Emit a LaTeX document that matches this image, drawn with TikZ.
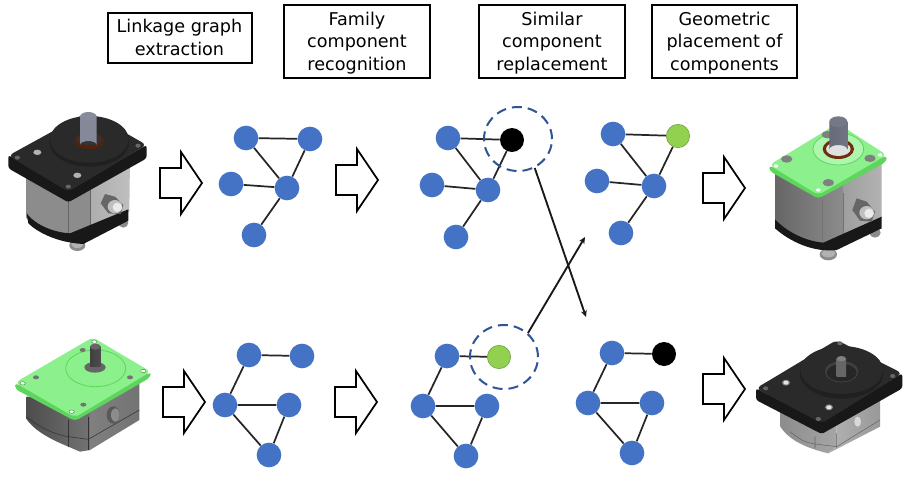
\documentclass[tikz,border=0pt]{standalone}
\usepackage{fontspec}
\setmainfont{DejaVu Sans}
\usetikzlibrary{arrows.meta,backgrounds,shapes.geometric}
\definecolor{nodeblue}{HTML}{4472C4}
\definecolor{nodegreen}{HTML}{92D050}
\definecolor{dashblue}{HTML}{2F5597}
\definecolor{plategreen}{HTML}{8CF08C}
\definecolor{platedge}{HTML}{5ED65E}
\definecolor{darkplate}{HTML}{2A2A2A}
\definecolor{bossrim}{HTML}{202020}
\definecolor{sideplate}{HTML}{181818}
\definecolor{shaftblue}{HTML}{BCC2DA}
\definecolor{ringbrown}{HTML}{6E2E10}
\tikzset{
  titlebox/.style={draw=black,line width=1.5pt,fill=white,align=center,font=\fontsize{13.2}{17}\selectfont,inner sep=0pt},
  gnode/.style={circle,fill=nodeblue,inner sep=0pt,minimum size=18.5pt},
  greennode/.style={circle,fill=nodegreen,draw=nodegreen!75!black,line width=.4pt,inner sep=0pt,minimum size=17.5pt},
  blacknode/.style={circle,fill=black,inner sep=0pt,minimum size=18pt},
  edge/.style={draw=black!85,line width=1.3pt},
  swaparrow/.style={draw=black!90,line width=1.4pt,-{Stealth[length=5pt,width=4.5pt]}},
  dashring/.style={ellipse,draw=dashblue,line width=1.5pt,dash pattern=on 7.5pt off 4.5pt},
  blockarrow/.style={draw=black,line width=1.3pt,fill=white,line join=miter},
}
\newcommand{\blockarr}[2]{\draw[blockarrow,shift={(#1,#2)}] (0,-15)--(21,-15)--(21,-31)--(42,0)--(21,31)--(21,15)--(0,15)--cycle;}
\begin{document}
\begin{tikzpicture}[x=0.75pt,y=-0.75pt]
\useasboundingbox (0,0) rectangle (908,486);
\begin{scope}[on background layer]
\fill[white] (0,0) rectangle (908,486);
\end{scope}
% title boxes
\node[titlebox,minimum width=108pt,minimum height=37.5pt] (t1) at (179.5,37.5) {Linkage graph\\extraction};
\node[titlebox,minimum width=109pt,minimum height=54.5pt] (t2) at (357,41.5) {\rule{0pt}{12pt}Family\\component\\recognition};
\node[titlebox,minimum width=109pt,minimum height=54.5pt] (t3) at (552,41.5) {\rule{0pt}{12pt}Similar\\component\\replacement};
\node[titlebox,minimum width=109pt,minimum height=54.5pt] (t4) at (724.5,41.5) {\rule{0pt}{12pt}Geometric\\placement of\\components};
% block arrows
\blockarr{160}{183}
\blockarr{336}{180}
\blockarr{703}{188}
\blockarr{163}{402}
\blockarr{335}{402}
\blockarr{703}{389}
% top graphs
\node[gnode] (a1) at (246,138) {};
\node[gnode] (a2) at (310,139) {};
\node[gnode] (a3) at (231,184) {};
\node[gnode] (a4) at (287,188) {};
\node[gnode] (a5) at (254,235) {};
\node[gnode] (b1) at (448,138) {};
\node[blacknode] (b2) at (512,140) {};
\node[gnode] (b3) at (432,185) {};
\node[gnode] (b4) at (488,190) {};
\node[gnode] (b5) at (456,237) {};
\node[gnode] (c1) at (613,134) {};
\node[greennode] (c2) at (678,136) {};
\node[gnode] (c3) at (597,181) {};
\node[gnode] (c4) at (654,186) {};
\node[gnode] (c5) at (621,233) {};
% bottom graphs
\node[gnode] (d1) at (249,355) {};
\node[gnode] (d2) at (302,356) {};
\node[gnode] (d3) at (225,405) {};
\node[gnode] (d4) at (289,405) {};
\node[gnode] (d5) at (269,455) {};
\node[gnode] (e1) at (447,356) {};
\node[greennode] (e2) at (499,357) {};
\node[gnode] (e3) at (423,406) {};
\node[gnode] (e4) at (487,406) {};
\node[gnode] (e5) at (466,456) {};
\node[gnode] (f1) at (612,353) {};
\node[blacknode] (f2) at (664,354) {};
\node[gnode] (f3) at (588,403) {};
\node[gnode] (f4) at (652,403) {};
\node[gnode] (f5) at (632,453) {};
\begin{scope}[on background layer]
\foreach \g in {a,b,c}{
  \draw[edge] (\g1)--(\g2) (\g1)--(\g4) (\g3)--(\g4) (\g2)--(\g4) (\g4)--(\g5);
}
\foreach \g in {d,e,f}{
  \draw[edge] (\g1)--(\g2) (\g1)--(\g3) (\g3)--(\g4) (\g3)--(\g5) (\g4)--(\g5);
}
\end{scope}
% dashed rings and swap arrows
\node[dashring,minimum width=51pt,minimum height=48pt,inner sep=0pt] (ringtop) at (518,139) {};
\node[dashring,minimum width=51pt,minimum height=48pt,inner sep=0pt] (ringbot) at (504,357) {};
\coordinate (toend) at (586,317);
\coordinate (botend) at (585,237);
\draw[swaparrow] (ringtop.-60) -- (toend);
\draw[swaparrow] (ringbot.45) -- (botend);
% ===== pump top-left =====
\begin{scope}[shift={(0,90)},x=0.25pt,y=-0.25pt,line join=round]
\fill[black!45] (232,466) ellipse (24 and 17);
\fill[black!30] (232,462) ellipse (18 and 12);
\fill[black!45] (370,398) ellipse (15 and 15);
\shade[left color=black!45,middle color=black!6,right color=black!45] (80,260) -- (80,385) .. controls (120,430) .. (210,445) -- (272,420) -- (272,240) -- cycle;
\shade[left color=black!32,right color=black!25] (272,240) -- (272,420) -- (388,365) -- (390,205) -- cycle;
\draw[black!60,line width=.4pt] (272,300)--(272,418) (205,330)--(205,445);
\fill[sideplate] (80,370) .. controls (110,410) and (170,428) .. (210,430) -- (385,358) -- (385,392) -- (250,462) .. controls (170,458) and (110,425) .. (85,400) -- cycle;
\fill[black!60] (315,312)--(345,320)--(370,345)--(362,372)--(325,370)--(302,340)--cycle;
\fill[black!25] (345,350) ellipse (22 and 20);
\fill[black!8] (352,352) ellipse (14 and 14);
\fill[sideplate,rounded corners=2pt] (25,195)--(205,300)--(440,165)--(440,205)--(205,337)--(25,235)--cycle;
\fill[darkplate,rounded corners=4pt] (25,197)--(265,65)--(440,165)--(205,305)--cycle;
\fill[bossrim] (268,155) ellipse (120 and 75);
\fill[darkplate] (268,148) ellipse (118 and 70);
\fill[ringbrown!75!black] (268,152) ellipse (44 and 26);
\fill[black!80] (268,148) ellipse (38 and 18);
\shade[left color=shaftblue!70!black,middle color=shaftblue,right color=shaftblue!70!black] (240,82) -- (240,165) arc[start angle=180,end angle=360,x radius=25,y radius=12] -- (290,82) -- cycle;
\fill[shaftblue!72!black] (265,80) ellipse (25 and 14);
\fill[black!30] (112,187) ellipse (12 and 8);
\fill[black!30] (232,256) ellipse (12 and 8);
\foreach \p in {(52,203),(205,290),(414,167)} \fill[black!60] \p ellipse (8 and 6);
\end{scope}
% ===== pump top-right =====
\begin{scope}[shift={(700,100)},x=0.25pt,y=-0.25pt,line join=round]
\fill[black!45] (385,463) ellipse (26 and 18);
\fill[black!30] (385,460) ellipse (20 and 12);
\fill[black!45] (525,398) ellipse (17 and 15);
\shade[left color=black!60,middle color=black!10,right color=black!45] (225,215) -- (225,375) .. controls (270,420) and (330,440) .. (370,440) -- (430,412) -- (430,240) -- cycle;
\shade[left color=black!38,right color=black!30] (430,220) -- (430,412) -- (545,355) -- (545,170) -- cycle;
\draw[black!55,line width=.4pt] (367,300)--(367,440) (430,280)--(430,410);
\fill[sideplate] (225,358) .. controls (270,405) and (330,425) .. (370,428) -- (545,350) -- (545,385) -- (410,450) .. controls (340,458) and (270,425) .. (225,385) -- cycle;
\fill[black!60] (470,295)--(500,305)--(525,335)--(515,365)--(480,362)--(457,330)--cycle;
\fill[black!25] (500,338) ellipse (22 and 20);
\fill[black!8] (507,340) ellipse (14 and 14);
\fill[platedge,rounded corners=3pt] (208,195)--(355,280)--(560,165)--(560,185)--(355,296)--(208,213)--cycle;
\fill[plategreen,rounded corners=4pt] (208,195)--(413,70)--(560,165)--(355,285)--cycle;
\fill[plategreen!70!white] (415,147) ellipse (76 and 48);
\draw[platedge,line width=.6pt] (415,147) ellipse (76 and 48);
\fill[ringbrown] (415,147) ellipse (47 and 30);
\fill[black!12] (415,147) ellipse (37 and 21);
\foreach \p in {(260,177),(385,248),(510,175),(382,104)} \fill[black!50] \p ellipse (17 and 11);
\shade[left color=shaftblue!55!black,middle color=shaftblue!90,right color=shaftblue!60!black] (388,65) -- (388,148) arc[start angle=180,end angle=360,x radius=27,y radius=13] -- (442,65) -- cycle;
\fill[shaftblue!62!black] (415,65) ellipse (27 and 16);
\foreach \p in {(228,198),(355,270),(540,165)} \fill[white] \p ellipse (7 and 5);
\end{scope}
% ===== pump bottom-left =====
\begin{scope}[shift={(0,320)},x=0.25pt,y=-0.25pt,line join=round]
\shade[left color=black!70,middle color=black!35,right color=black!55] (80,230) -- (80,298) .. controls (110,340) and (170,365) .. (205,380) -- (240,395) -- (270,390) -- (270,240) -- cycle;
\shade[left color=black!50,right color=black!55] (270,240) -- (270,390) -- (418,300) -- (418,175) -- cycle;
\draw[black!80,line width=.4pt] (205,300)--(205,380) (265,290)--(265,390);
\draw[black!80,line width=.4pt] (80,290) .. controls (120,325) and (170,345) .. (205,350) -- (265,358) -- (418,270);
\fill[black!65] (340,285) ellipse (20 and 26);
\fill[black!45] (346,285) ellipse (13 and 20);
\fill[platedge,rounded corners=3pt] (45,188)--(225,285)--(452,155)--(452,172)--(225,303)--(45,207)--cycle;
\fill[plategreen,rounded corners=4pt] (45,188)--(278,52)--(452,155)--(225,292)--cycle;
\draw[platedge,line width=.6pt] (287,145) ellipse (90 and 55);
\fill[black!60] (285,142) ellipse (32 and 16);
\shade[left color=black!75,middle color=black!45,right color=black!70] (270,80) rectangle (302,140);
\fill[black!60] (286,80) ellipse (16 and 9);
\foreach \p in {(108,172),(248,90),(390,172),(250,254)} \fill[black!55] \p ellipse (9 and 6);
\foreach \p in {(68,190),(215,275),(430,153),(283,65)} {\fill[white] \p ellipse (8 and 5); \draw[platedge!60!black,line width=.3pt] \p ellipse (8 and 5);}
\end{scope}
% ===== pump bottom-right =====
\begin{scope}[shift={(700,320)},x=0.25pt,y=-0.25pt,line join=round]
\shade[left color=black!45,middle color=black!25,right color=black!35] (240,260) -- (240,318) .. controls (265,360) and (320,385) .. (385,400) -- (410,380) -- (410,250) -- cycle;
\shade[left color=black!30,right color=black!40] (410,280) -- (410,380) -- (385,400) -- (540,320) -- (540,225) -- cycle;
\draw[black!60,line width=.4pt] (345,350)--(345,385) (410,340)--(410,385) (270,335)..controls (310,365)..(345,372) -- (410,380) -- (540,300);
\fill[black!35] (468,305) ellipse (16 and 20);
\fill[black!15] (473,305) ellipse (10 and 15);
\fill[sideplate,rounded corners=2pt] (168,205)--(365,305)--(607,160)--(607,205)--(365,342)--(168,240)--cycle;
\fill[darkplate,rounded corners=4pt] (168,205)--(410,60)--(607,160)--(365,310)--cycle;
\fill[bossrim] (425,158) ellipse (126 and 78);
\fill[darkplate] (425,150) ellipse (124 and 72);
\fill[black!75] (425,155) ellipse (50 and 32);
\fill[black!85] (425,158) ellipse (45 and 26);
\shade[left color=black!60,middle color=black!30,right color=black!60] (410,115) rectangle (438,170);
\fill[black!50] (424,116) ellipse (14 and 8);
\foreach \p in {(258,188),(387,262)} {\fill[black!50] \p ellipse (12 and 9); \fill[shaftblue!45] \p ellipse (8 and 6);}
\foreach \p in {(197,205),(355,297),(578,168),(420,70)} \fill[black!60] \p ellipse (8 and 6);
\end{scope}
\end{tikzpicture}
\end{document}
